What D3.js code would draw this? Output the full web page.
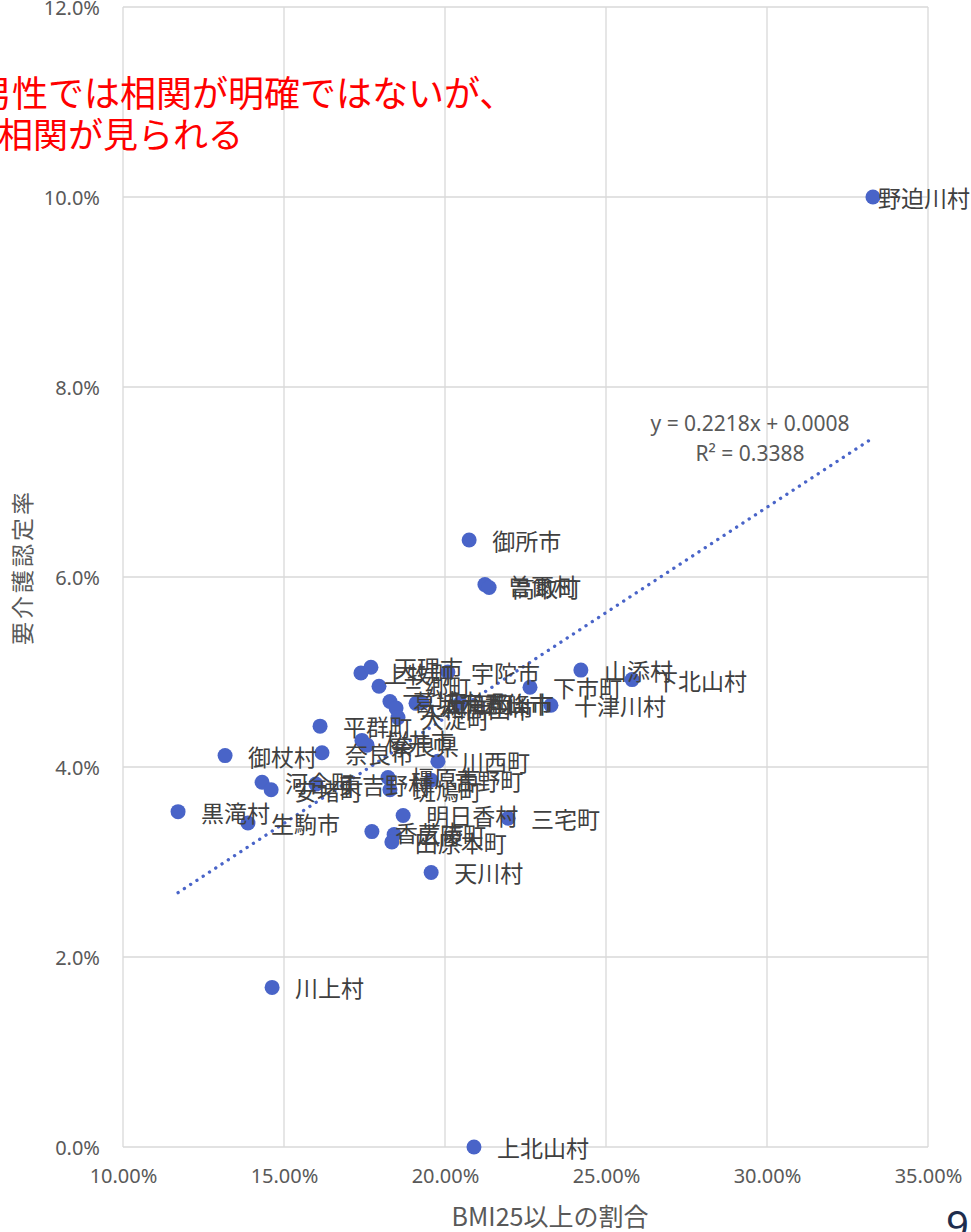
<!DOCTYPE html>
<html><head><meta charset="utf-8">
<script src="https://cdn.jsdelivr.net/npm/d3@7"></script>
<style>body{margin:0;background:#fff;overflow:hidden}svg{display:block}</style>
</head><body><svg id="c" width="971" height="1232"></svg>
<script>
const names = ["野迫川村","御所市","曽爾村","高取町","上牧町","天理市","宇陀市","三郷町","下市町","山添村","下北山村","十津川村","葛城市","大和高田市","王寺町","大和郡山市","五條市","大淀町","平群町","桜井市","奈良県","奈良市","御杖村","川西町","河合町","安堵町","東吉野村","橿原市","斑鳩町","吉野町","黒滝村","生駒市","明日香村","三宅町","香芝市","広陵町","田原本町","天川村","川上村","上北山村"];
const bmi = [0.3329,0.2075,0.2124,0.2137,0.1739,0.1770,0.2009,0.1795,0.2264,0.2422,0.2581,0.2329,0.1829,0.1848,0.1929,0.1910,0.2047,0.1854,0.1612,0.1742,0.1758,0.1618,0.1317,0.1978,0.1432,0.1460,0.1599,0.1823,0.1829,0.1957,0.1171,0.1388,0.1870,0.2196,0.1773,0.1842,0.1835,0.1957,0.1463,0.2090];
const care = [0.1000,0.0639,0.0592,0.0589,0.0499,0.0505,0.0500,0.0485,0.0484,0.0502,0.0492,0.0465,0.0469,0.0462,0.0468,0.0467,0.0467,0.0452,0.0443,0.0428,0.0423,0.0415,0.0412,0.0406,0.0384,0.0376,0.0382,0.0389,0.0376,0.0386,0.0353,0.0341,0.0349,0.0346,0.0332,0.0329,0.0321,0.0289,0.0168,0.0000];
const xTicks = [0.10,0.15,0.20,0.25,0.30,0.35];
const yTicks = [0,0.02,0.04,0.06,0.08,0.10,0.12];
const trend = [0.2218, 0.0008];
const eqLines = ["y = 0.2218x + 0.0008","R² = 0.3388"];
const noteLines = ["男性では相関が明確ではないが、","相関が見られる"];

const svg = d3.select("#c");
const W=971,L=123,R=928,T=7,B=1147;
const x = d3.scaleLinear().domain([0.10,0.35]).range([L,R]);
const y = d3.scaleLinear().domain([0,0.12]).range([B,T]);
const grid = "#d9d9d9", tc="#595959";
const numFont = "'Noto Sans', 'Open Sans', sans-serif";
const jpFont = "'Noto Sans CJK JP', sans-serif";

const g = svg.append("g");
g.selectAll("line.vx").data(xTicks).join("line")
 .attr("x1",d=>x(d)).attr("x2",d=>x(d)).attr("y1",T).attr("y2",B)
 .attr("stroke",grid).attr("stroke-width",1.3);
g.selectAll("line.hy").data(yTicks).join("line")
 .attr("y1",d=>y(d)).attr("y2",d=>y(d)).attr("x1",L).attr("x2",R)
 .attr("stroke",grid).attr("stroke-width",1.3);

const xa = d3.axisBottom(x).tickValues(xTicks).tickFormat(d3.format(".2%")).tickSize(0).tickPadding(22);
const ya = d3.axisLeft(y).tickValues(yTicks).tickFormat(d3.format(".1%")).tickSize(0).tickPadding(23);
const gx = svg.append("g").attr("transform",`translate(0,${B})`).call(xa);
const gy = svg.append("g").attr("transform",`translate(${L},0)`).call(ya);
[gx,gy].forEach(a=>{a.select(".domain").remove();
 a.selectAll("text").attr("fill",tc).style("font-family",numFont).style("font-size","20px");});
gy.selectAll("text").attr("dy","0.35em");

const xs = d3.extent(bmi);
svg.append("line")
 .attr("x1",x(xs[0])).attr("y1",y(trend[0]*xs[0]+trend[1]))
 .attr("x2",x(xs[1])).attr("y2",y(trend[0]*xs[1]+trend[1]))
 .attr("stroke","#4964c8").attr("stroke-width",3.3).attr("stroke-linecap","round")
 .attr("stroke-dasharray","0.1 7.4");

const data = names.map((n,i)=>({n, x:bmi[i], y:care[i]}));
svg.selectAll("circle").data(data).join("circle")
 .attr("cx",d=>x(d.x)).attr("cy",d=>y(d.y)).attr("r",7.5).attr("fill","#4964c8");
const labs = svg.selectAll("text.lab").data(data).join("text").attr("class","lab")
 .attr("y",d=>y(d.y)).attr("dominant-baseline","central")
 .attr("fill","#404040").style("font-family",jpFont).style("font-size","23px").text(d=>d.n);
labs.attr("x",function(d){const w=this.getComputedTextLength();return Math.min(x(d.x)+23, W-1-w);});

svg.selectAll("text.eq").data(eqLines).join("text").attr("class","eq")
 .attr("x",750).attr("y",(d,i)=>423+i*30).attr("text-anchor","middle").attr("dominant-baseline","central")
 .attr("fill",tc).style("font-family",numFont).style("font-size","21px").text(d=>d);

svg.append("text").attr("x",550).attr("y",1215).attr("text-anchor","middle").attr("dominant-baseline","central")
 .attr("fill",tc).style("font-family",jpFont).style("font-size","25px").text("BMI25以上の割合");
svg.append("text").attr("transform","translate(21,567) rotate(-90)").attr("text-anchor","middle").attr("dominant-baseline","central")
 .attr("fill",tc).style("font-family",jpFont).style("font-size","23px").style("letter-spacing","3px").text("要介護認定率");

svg.selectAll("text.note").data(noteLines).join("text").attr("class","note")
 .attr("x",(d,i)=>i===0?-24:-2).attr("y",(d,i)=>91+i*41).attr("dominant-baseline","central")
 .attr("fill","#ff0000").style("font-family",jpFont).style("font-size",(d,i)=>i===0?"36px":"35px").text(d=>d);

svg.append("text").attr("x",946).attr("y",1240).attr("fill","#1f2d4d")
 .style("font-family",numFont).style("font-size","40px").text("9");
</script></body></html>
